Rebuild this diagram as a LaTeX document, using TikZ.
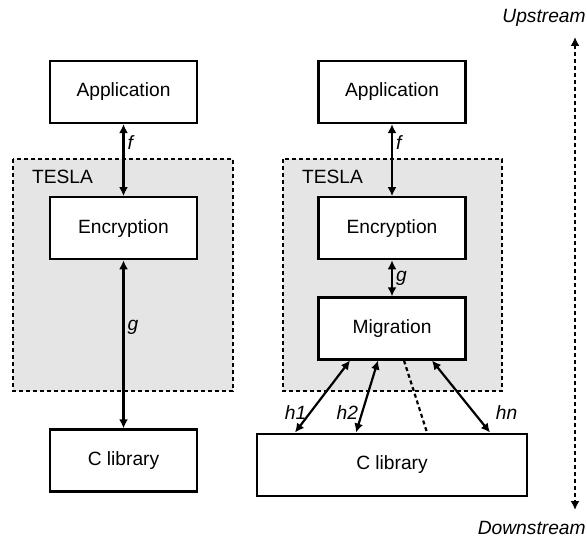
\documentclass[tikz,border=0pt]{standalone}
\usepackage{fontspec}
\setmainfont{Liberation Sans}
\usepackage{tikz}
\usetikzlibrary{positioning, arrows.meta}

\tikzset{
  box/.style={draw, line width=1.1pt, fill=white, minimum width=73.5pt, minimum height=31pt, inner sep=0pt},
  region/.style={draw, line width=1.1pt, fill=black!10, dash pattern=on 2pt off 1.5pt},
  link/.style={<->, line width=1.1pt},
  hint/.style={line width=1.1pt, dash pattern=on 2pt off 1.5pt},
  lbl/.style={font=\fontsize{9.6}{11.5}\selectfont\itshape, inner sep=1.5pt}
}

\begin{document}
\begin{tikzpicture}[x=0.5pt, y=-0.5pt, >={Latex[length=4.5pt,width=4.5pt]}, font=\fontsize{9.6}{11.5}\selectfont]
            \useasboundingbox (0,0) rectangle (587,540);
            % shaded TESLA areas
            \draw [region] (13,159) rectangle (233,391);
            \draw [region] (283,159) rectangle (502,391);
            \node [anchor=west] (tesla1) at (25,177) {TESLA};
            \node [anchor=west] (tesla2) at (295,177) {TESLA};
            % left stack
            \node [box] (app1) at (123.5,92) {Application};
            \node [box, below = 36pt of app1] (enc1) {Encryption};
            \node [box, below = 84pt of enc1] (lib1) {C library};
            % right stack
            \node [box] (app2) at (392,92) {Application};
            \node [box, below = 36pt of app2] (enc2) {Encryption};
            \node [box, below = 18pt of enc2] (mig2) {Migration};
            \node [box, below = 36pt of mig2, minimum width=135pt] (lib2) {C library};
            \draw [link] (app1) -- node [lbl, right, pos=0.25] {f} (enc1);
            \draw [link] (enc1) -- node [lbl, right, pos=0.4] {g} (lib1);
            \draw [link] (app2) -- node [lbl, right, pos=0.25] {f} (enc2);
            \draw [link] (enc2) -- node [lbl, right] {g} (mig2);
            \draw [link] ([xshift=-21pt]mig2.south) -- node [lbl, left, pos=0.72] {h1} ([xshift=-48.5pt]lib2.north);
            \draw [link] ([xshift=-7pt]mig2.south) -- node [lbl, left, pos=0.72] {h2} ([xshift=-18pt]lib2.north);
            \draw [hint] ([xshift=6pt]mig2.south) -- ([xshift=17.5pt]lib2.north);
            \draw [link] ([xshift=20pt]mig2.south) -- node [lbl, right=9pt, pos=0.72] {hn} ([xshift=49pt]lib2.north);
            % direction
            \node [lbl, anchor=east, inner sep=0pt] (up) at (586,18) {Upstream};
            \node [lbl, anchor=east, inner sep=0pt] (down) at (586,528) {Downstream};
            \coordinate (upend) at (575,37);
            \coordinate (downend) at (575,510);
            \draw [<->, hint] (upend) -- (downend);
        \end{tikzpicture}
\end{document}
